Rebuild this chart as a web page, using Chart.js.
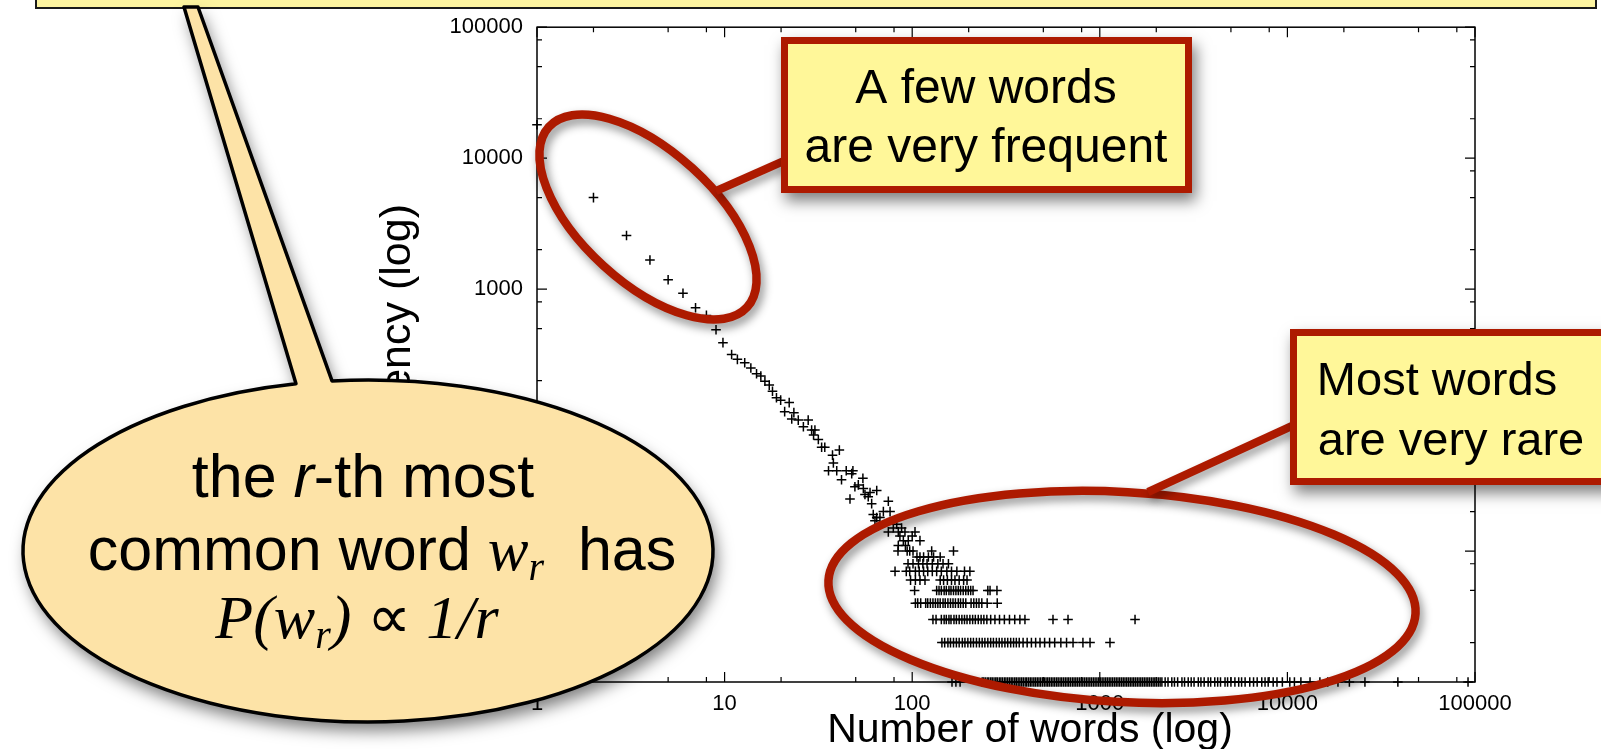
<!DOCTYPE html>
<html>
<head>
<meta charset="utf-8">
<script src="https://cdn.jsdelivr.net/npm/chart.js@4.4.1/dist/chart.umd.min.js"></script>
<style>
  html, body { margin: 0; padding: 0; background: #fff; }
  canvas { display: block; }
</style>
</head>
<body>
<canvas id="zipfChart" width="1601" height="749"></canvas>
<script>
// labelled ticks on both log axes, plus the small ones in between
var decadeTicks = [1, 10, 100, 1000, 10000, 100000];
var minorSteps = [2, 5, 8];

// steep head of the curve (rank, frequency)
var headRanks = [1, 2, 3, 4, 5, 6, 7, 8, 9, 9.8, 10.9, 11.7, 12.8, 13.8, 14.8, 15.6, 16.4, 17.3, 18, 18.9,
  19.9, 22.1, 20.9, 23.4, 22.8, 24.7, 27.9, 26.3, 29.1, 30.3, 29.8, 31.6, 32.9, 34.2, 40.9, 37.6, 38, 35.8,
  39.6, 44.5, 48.3, 47.6, 54.6, 42, 49.5, 51.6, 54.9, 59.6, 64.7, 46.6, 56, 58.3, 60.8, 74.6, 76.2, 70.2,
  62, 67.3, 64.7, 63.3, 82.7, 79.3, 87.8, 74.6, 84.3, 91.5, 103.5, 86, 100, 89.7, 95.3, 110, 84.3, 92];
var headFreqs = [18000, 5000, 2570, 1670, 1180, 930, 720, 630, 490, 390, 317, 291, 274, 250, 226, 217, 198, 185, 166, 148,
  142, 136, 116, 114, 102, 100, 100, 89, 84, 84, 77, 71, 62, 62, 59, 54, 47, 41,
  41, 41, 41, 39, 36, 35, 31, 32, 30, 28, 29, 25, 27, 26, 23, 24, 20, 20,
  19, 18, 18, 17, 16, 15, 15, 14, 14, 14, 14, 13, 13, 12, 12, 12, 11, 11];

// rare words pile up on integer frequency rows
var ranksAt10 = [84, 94, 97, 101, 127, 166];
var ranksAt9 = [106, 110, 115, 122, 130, 141];
var ranksAt8 = [95, 101, 108, 114, 120, 128, 137, 146, 156];
var ranksAt7 = [81, 93, 97, 104, 109, 115, 121, 128, 135, 143, 153, 162, 173, 190, 203];
var ranksAt6 = [98, 104, 110, 117, 141, 147, 154, 162, 169, 178, 188, 196];
var ranksAt5 = [103, 135, 139, 143, 148, 152, 157, 161, 166, 171, 176, 181, 187, 193, 199, 205, 211, 253, 260, 283];
var ranksAt4 = [104, 107, 111, 118, 121, 125, 129, 133, 137, 141, 146, 150, 155, 160, 165, 170, 176, 181,
  187, 193, 206, 213, 220, 227, 235, 251, 284];
var ranksAt3 = [129, 134, 143, 148, 152, 157, 161, 167, 172, 178, 184, 190, 196, 203, 210, 217, 225, 233,
  241, 250, 262, 276, 292, 310, 330, 352, 375, 399, 563, 677, 1541];
var ranksAt2 = [144, 149, 155, 160, 166, 172, 178, 185, 191, 198, 205, 212, 220, 228, 236, 244, 253, 262,
  271, 281, 291, 301, 312, 323, 335, 347, 359, 372, 390, 410, 432, 455, 480, 508, 540, 575, 620, 665, 720,
  813, 887, 1133];
var ranksAt1 = [163, 171, 180,
  236, 240, 245, 251, 256, 262, 267, 273, 279, 284, 291, 297, 303, 310, 316, 323, 330, 337, 344, 352, 359,
  367, 375, 383, 391, 400, 408, 417, 426, 435, 445, 454, 464, 474, 484, 495, 506, 517, 528, 539, 551, 563,
  575, 588, 600, 614, 627, 641, 655, 669, 683, 698, 714, 729, 745, 761, 778, 795, 812, 830, 848, 866, 885,
  904, 924, 944, 965, 986, 1007, 1029, 1052, 1075, 1098, 1122, 1146, 1171, 1197, 1223, 1250, 1277, 1305,
  1333, 1362, 1392, 1422, 1453, 1485, 1517, 1550, 1584, 1619, 1654, 1690, 1727, 1765, 1803, 1842, 1883,
  1924, 1965, 2008, 2052, 2097, 2143,
  2230, 2310, 2420, 2500, 2600, 2740, 2830, 2960, 3070, 3180, 3350, 3460, 3600, 3780, 3900, 4100, 4250,
  4400, 4650, 4800, 5000, 5250, 5500, 5700, 5950, 6300, 6600, 6900, 7300, 7600, 7900, 8400, 8800, 9400,
  10300, 10900, 11800, 13200, 14900, 16400, 18600, 21400, 25900, 38800, 91800];

var points = [];
headRanks.forEach(function (r, i) {
  points.push({ x: r, y: headFreqs[i] });
});
var rows = [[10, ranksAt10], [9, ranksAt9], [8, ranksAt8], [7, ranksAt7], [6, ranksAt6],
  [5, ranksAt5], [4, ranksAt4], [3, ranksAt3], [2, ranksAt2], [1, ranksAt1]];
rows.forEach(function (row) {
  row[1].forEach(function (r) {
    points.push({ x: r, y: row[0] });
  });
});

var RED = "#ad1a00";
var YELLOW = "#fff799";
var SANS = "'Liberation Sans', Arial, Helvetica, sans-serif";
var SERIF = "'Liberation Serif', 'Times New Roman', serif";

function withShadow(c, blur, dx, dy, alpha) {
  c.shadowColor = "rgba(0,0,0," + alpha + ")";
  c.shadowBlur = blur;
  c.shadowOffsetX = dx;
  c.shadowOffsetY = dy;
}
function noShadow(c) {
  c.shadowColor = "rgba(0,0,0,0)";
  c.shadowBlur = 0;
  c.shadowOffsetX = 0;
  c.shadowOffsetY = 0;
}

// text made of runs in different fonts, centred on cx
function drawRun(c, parts, cx, baseline) {
  var total = 0;
  parts.forEach(function (p) {
    c.font = p.font;
    p.w = c.measureText(p.text).width;
    total += p.w;
  });
  var x = cx - total / 2;
  c.textAlign = "left";
  c.textBaseline = "alphabetic";
  parts.forEach(function (p) {
    c.font = p.font;
    c.fillText(p.text, x, baseline + (p.dy || 0));
    x += p.w;
  });
}

function calloutBox(c, x, y, w, h, lines, centers, baselines, size) {
  c.save();
  withShadow(c, 14, 4, 8, 0.5);
  c.fillStyle = YELLOW;
  c.fillRect(x, y, w, h);
  noShadow(c);
  c.strokeStyle = RED;
  c.lineWidth = 7;
  c.strokeRect(x + 3.5, y + 3.5, w - 7, h - 7);
  c.fillStyle = "#000";
  c.font = size + "px " + SANS;
  c.textAlign = "center";
  c.textBaseline = "alphabetic";
  lines.forEach(function (t, i) {
    c.fillText(t, centers[i], baselines[i]);
  });
  c.restore();
}

function redRing(c, cx, cy, a, b, rot) {
  c.save();
  withShadow(c, 10, 3, 5, 0.45);
  c.strokeStyle = RED;
  c.lineWidth = 8.5;
  c.beginPath();
  c.ellipse(cx, cy, a, b, rot, 0, Math.PI * 2);
  c.stroke();
  c.restore();
}

function connector(c, x1, y1, x2, y2) {
  c.save();
  withShadow(c, 8, 3, 5, 0.4);
  c.strokeStyle = RED;
  c.lineWidth = 8;
  c.beginPath();
  c.moveTo(x1, y1);
  c.lineTo(x2, y2);
  c.stroke();
  c.restore();
}

var frameAndTicks = {
  id: "frameAndTicks",
  beforeDraw: function (chart) {
    var c = chart.ctx;
    c.save();
    c.fillStyle = "#fff";
    c.fillRect(0, 0, chart.width, chart.height);
    c.restore();
  },
  afterDatasetsDraw: function (chart) {
    var c = chart.ctx;
    var a = chart.chartArea;
    var xs = chart.scales.x, ys = chart.scales.y;
    c.save();
    c.strokeStyle = "#000";
    c.lineWidth = 1.5;
    c.strokeRect(a.left, a.top, a.right - a.left, a.bottom - a.top);
    c.lineWidth = 1.2;
    c.beginPath();
    decadeTicks.forEach(function (d) {
      [1].concat(minorSteps).forEach(function (m) {
        var v = d * m;
        if (v > 100000) return;
        var len = m === 1 ? 10 : 5;
        var px = xs.getPixelForValue(v);
        c.moveTo(px, a.bottom); c.lineTo(px, a.bottom - len);
        c.moveTo(px, a.top); c.lineTo(px, a.top + len);
        var py = ys.getPixelForValue(v);
        c.moveTo(a.left, py); c.lineTo(a.left + len, py);
        c.moveTo(a.right, py); c.lineTo(a.right - len, py);
      });
    });
    c.stroke();

    // x axis title, set a little right of the plot centre as in the original
    c.fillStyle = "#000";
    c.font = "41px " + SANS;
    c.textAlign = "center";
    c.textBaseline = "alphabetic";
    c.fillText("Number of words (log)", 1030, 742);
    c.restore();
  },
  afterDraw: function (chart) {
    var c = chart.ctx;

    // few frequent words
    redRing(c, 648, 217, 134, 66, 42.3 * Math.PI / 180);
    connector(c, 716, 191, 786, 160);
    calloutBox(c, 781, 37, 411, 156, ["A few words", "are very frequent"], [986, 986], [103, 162], 48);

    // many rare words
    redRing(c, 1122, 597, 294, 105, 3.2 * Math.PI / 180);
    connector(c, 1148, 492, 1294, 425);
    calloutBox(c, 1290, 329, 330, 156, ["Most words", "are very rare"], [1437, 1451], [395, 455], 47);

    // top banner edge
    c.save();
    c.fillStyle = "#fdf4a0";
    c.fillRect(36, -20, 1560, 28);
    c.strokeStyle = "#1a1a1a";
    c.lineWidth = 2;
    c.strokeRect(36, -20, 1560, 28);
    c.restore();

    // speech bubble with its tail
    var cx = 368, cy = 551, rx = 345, ry = 171;
    var tL = Math.acos((296 - cx) / rx), tR = Math.acos((332 - cx) / rx);
    c.save();
    c.beginPath();
    c.moveTo(198, 7);
    c.ellipse(cx, cy, rx, ry, 0, -tR, 2 * Math.PI - tL);
    c.lineTo(184, 7);
    c.closePath();
    withShadow(c, 16, 4, 9, 0.5);
    c.fillStyle = "#fde3a7";
    c.fill();
    noShadow(c);
    c.strokeStyle = "#000";
    c.lineWidth = 3.5;
    c.lineJoin = "round";
    c.stroke();
    c.restore();

    c.save();
    c.fillStyle = "#000";
    drawRun(c, [
      { text: "the ", font: "61px " + SANS },
      { text: "r", font: "italic 61px " + SANS },
      { text: "-th most", font: "61px " + SANS }
    ], 363, 497);
    drawRun(c, [
      { text: "common word ", font: "61px " + SANS },
      { text: "w", font: "italic 61px " + SERIF },
      { text: "r", font: "italic 40px " + SERIF, dy: 10 },
      { text: "  has", font: "61px " + SANS }
    ], 382, 570);
    drawRun(c, [
      { text: "P(w", font: "italic 62px " + SERIF },
      { text: "r", font: "italic 40px " + SERIF, dy: 10 },
      { text: ") ", font: "italic 62px " + SERIF },
      { text: "\u221D", font: "62px " + SERIF },
      { text: " 1/r", font: "italic 62px " + SERIF }
    ], 357, 638);
    c.restore();
  }
};

var ctx = document.getElementById("zipfChart").getContext("2d");

new Chart(ctx, {
  type: "scatter",
  data: {
    datasets: [
      {
        label: "words",
        data: points,
        pointStyle: "cross",
        pointRadius: 4.8,
        borderColor: "#000",
        backgroundColor: "#000",
        borderWidth: 1.5,
        clip: false
      }
    ]
  },
  options: {
    responsive: false,
    animation: false,
    events: [],
    layout: { padding: { left: 372, right: 126, top: 23, bottom: 0 } },
    plugins: {
      legend: { display: false },
      tooltip: { enabled: false }
    },
    scales: {
      x: {
        type: "logarithmic",
        min: 1,
        max: 100000,
        afterBuildTicks: function (s) {
          s.ticks = decadeTicks.map(function (v) { return { value: v }; });
        },
        afterFit: function (s) { s.height = 67; },
        grid: { display: false, drawTicks: false },
        border: { display: false },
        ticks: {
          color: "#000",
          padding: 9,
          autoSkip: false,
          maxRotation: 0,
          font: { family: SANS, size: 22 },
          callback: function (v) { return String(v); }
        }
      },
      y: {
        type: "logarithmic",
        min: 1,
        max: 100000,
        afterBuildTicks: function (s) {
          s.ticks = decadeTicks.map(function (v) { return { value: v }; });
        },
        afterFit: function (s) { s.width = 165; },
        grid: { display: false, drawTicks: false },
        border: { display: false },
        ticks: {
          color: "#000",
          padding: 14,
          autoSkip: false,
          font: { family: SANS, size: 22 },
          callback: function (v) { return String(v); }
        },
        title: {
          display: true,
          text: "Frequency (log)",
          color: "#000",
          padding: 0,
          font: { family: SANS, size: 43, lineHeight: 1.2 }
        }
      }
    }
  },
  plugins: [frameAndTicks]
});
</script>
</body>
</html>
